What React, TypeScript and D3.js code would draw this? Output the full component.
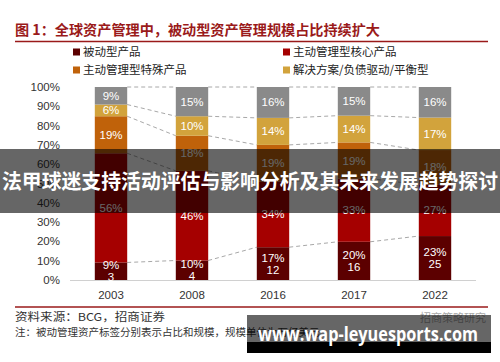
import React from "react";
import * as d3 from "d3";

const years = ["2003", "2008", "2016", "2017", "2022"];
const passive = [9, 10, 17, 20, 23];
const activeCore = [56, 46, 34, 33, 27];
const activeSpecial = [19, 18, 19, 19, 18];
const solutions = [6, 10, 14, 14, 17];
const other = [9, 15, 16, 15, 16];
const passiveScale = [3, 4, 12, 16, 25];
const seriesNames = ["被动型产品", "主动管理型核心产品", "主动管理型特殊产品", "解决方案/负债驱动/平衡型", "其他"];
const seriesColors = ["#5c0000", "#a50000", "#c0620a", "#d2a33c", "#8a8a8a"];
const yTicks = [0, 0.1, 0.2, 0.3, 0.4, 0.5, 0.6, 0.7, 0.8, 0.9, 1];

const W = 500;
const H = 362;
const sans = "'Liberation Sans', Arial, sans-serif";
const cjk = "'Noto Sans CJK SC', sans-serif";

export default function App() {
  const seriesData = [passive, activeCore, activeSpecial, solutions, other];
  const rows = years.map((y, i) => {
    const r: any = { year: y };
    seriesNames.forEach((n, k) => (r[n] = seriesData[k][i]));
    return r;
  });
  const stack = d3.stack<any>().keys(seriesNames).offset(d3.stackOffsetExpand);
  const stacked = stack(rows);

  const x = d3.scaleBand<string>().domain(years).range([70.5, 475.5]).paddingInner(0.6).paddingOuter(0.3);
  const y = d3.scaleLinear().domain([0, 1]).range([280, 87]);
  const bw = x.bandwidth();

  const legend = [
    { i: 0, x: 73, y: 52 },
    { i: 1, x: 283, y: 52 },
    { i: 2, x: 73, y: 70 },
    { i: 3, x: 283, y: 70 },
  ];

  return (
    <svg width={W} height={H} style={{ position: "absolute", left: 0, top: 0, background: "#fff" }}>
      <rect x={0} y={0} width={W} height={H} fill="#fff" />
      {/* title */}
      <text x={15} y={35} fontFamily={cjk} fontSize={14} fontWeight="bold" fill="#9a1a1a" textLength={365} lengthAdjust="spacingAndGlyphs">
        图 1：全球资产管理中，被动型资产管理规模占比持续扩大
      </text>
      <line x1={15} x2={488} y1={41.5} y2={41.5} stroke="#9a1a1a" strokeWidth={1.5} />
      {/* legend */}
      {legend.map((l) => (
        <g key={l.i}>
          <rect x={l.x} y={l.y - 3.5} width={7} height={7} fill={seriesColors[l.i]} />
          <text x={l.x + 10} y={l.y + 4} fontFamily={cjk} fontSize={11.5} fill="#222">
            {seriesNames[l.i]}
          </text>
        </g>
      ))}
      {/* y axis labels */}
      {yTicks.map((t) => (
        <text key={t} x={60} y={y(t) + 4} textAnchor="end" fontFamily={sans} fontSize={11.5} fill="#333">
          {Math.round(t * 100)}%
        </text>
      ))}
      {/* baseline */}
      <line x1={70} x2={476} y1={280.5} y2={280.5} stroke="#d0d0d0" strokeWidth={1} />
      {/* connectors */}
      {stacked.map((s, k) =>
        years.slice(0, -1).map((yr, i) => (
          <line
            key={`c${k}-${i}`}
            x1={(x(yr) as number) + bw}
            x2={x(years[i + 1]) as number}
            y1={y(s[i][1])}
            y2={y(s[i + 1][1])}
            stroke="#a8a8a8"
            strokeWidth={1}
            strokeDasharray="4,3"
          />
        ))
      )}
      {/* bars */}
      {stacked.map((s, k) =>
        s.map((d, i) => (
          <rect
            key={`b${k}-${i}`}
            x={x(years[i])}
            y={y(d[1])}
            width={bw}
            height={y(d[0]) - y(d[1])}
            fill={seriesColors[k]}
          />
        ))
      )}
      {/* labels */}
      {stacked.map((s, k) =>
        s.map((d, i) => {
          const cx = (x(years[i]) as number) + bw / 2;
          const cy = (y(d[0]) + y(d[1])) / 2;
          if (k === 0) {
            return (
              <g key={`l${k}-${i}`}>
                <text x={cx} y={cy - 6 + 4} textAnchor="middle" fontFamily={sans} fontSize={11.5} fill="#fff">
                  {seriesData[k][i]}%
                </text>
                <text x={cx} y={cy + 6 + 4} textAnchor="middle" fontFamily={sans} fontSize={11.5} fill="#fff">
                  {passiveScale[i]}
                </text>
              </g>
            );
          }
          return (
            <text key={`l${k}-${i}`} x={cx} y={cy + 4} textAnchor="middle" fontFamily={sans} fontSize={11.5} fill="#fff">
              {seriesData[k][i]}%
            </text>
          );
        })
      )}
      {/* x labels */}
      {years.map((yr) => (
        <text key={yr} x={(x(yr) as number) + bw / 2} y={299} textAnchor="middle" fontFamily={sans} fontSize={11.5} fill="#333">
          {yr}
        </text>
      ))}
      <line x1={15} x2={488} y1={307} y2={307} stroke="#9a1a1a" strokeWidth={1.5} />
      {/* source */}
      <text x={15} y={321} fontFamily={cjk} fontSize={11} fill="#333" textLength={150} lengthAdjust="spacingAndGlyphs">
        资料来源：BCG，招商证券
      </text>
      <text x={15} y={336} fontFamily={cjk} fontSize={10.5} fill="#333">
        注：被动管理资产标签分别表示占比和规模，规模单位为万亿美元
      </text>
      <text x={486} y={322} textAnchor="end" fontFamily={cjk} fontSize={11} fill="#aaa">
        招商策略研究
      </text>
      {/* banner overlay */}
      <rect x={0} y={149} width={W} height={64} fill="rgba(0,0,0,0.6)" />
      <text x={250} y={189} textAnchor="middle" fontFamily={cjk} fontWeight="bold" fontSize={20.5} fill="#fff" textLength={496} lengthAdjust="spacingAndGlyphs">
        法甲球迷支持活动评估与影响分析及其未来发展趋势探讨
      </text>
      {/* watermark overlay */}
      <rect x={247} y={315} width={244} height={27} fill="rgba(0,0,0,0.6)" />
      <rect x={247} y={342} width={244} height={11} fill="#000" />
      <text x={258} y={341} fontFamily="'Open Sans', 'DejaVu Sans', sans-serif" fontWeight="bold" fontSize={20} fill="#fff" textLength={220} lengthAdjust="spacingAndGlyphs">
        www.wap-leyuesports.com
      </text>
    </svg>
  );
}
